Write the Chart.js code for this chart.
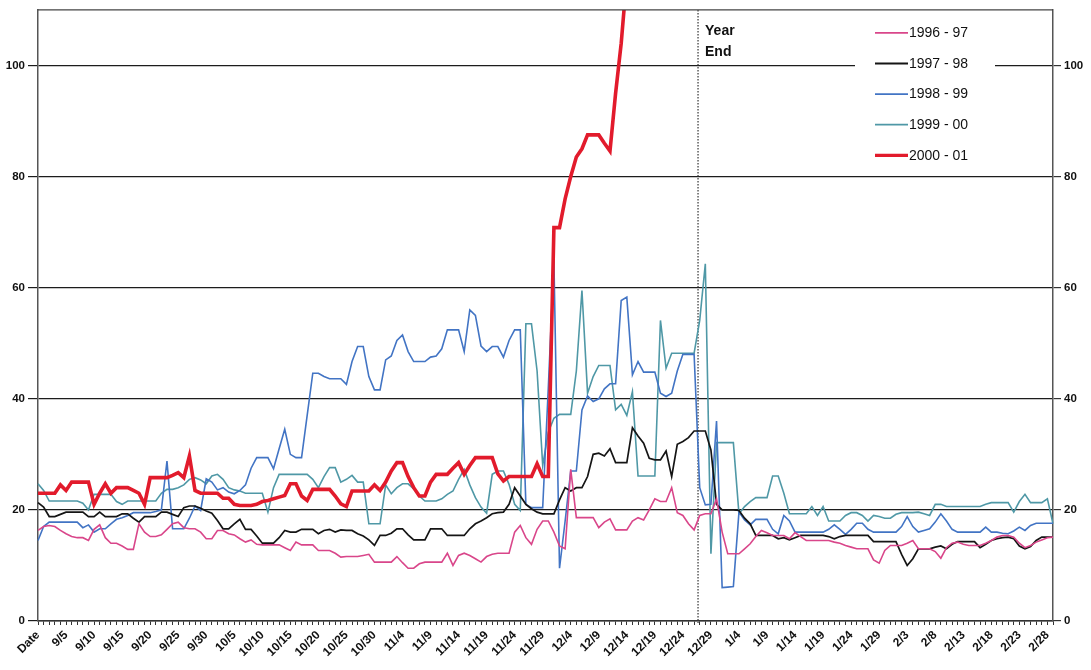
<!DOCTYPE html>
<html><head><meta charset="utf-8">
<script src="https://cdn.jsdelivr.net/npm/chart.js@4.4.1/dist/chart.umd.min.js"></script>
<style>html,body{margin:0;padding:0;background:#fff}canvas{display:block}</style>
</head><body>
<canvas id="c" width="1091" height="670"></canvas>
<script>
// ---------- DATA ----------
const categories = ["Date",
"9/1","9/2","9/3","9/4","9/5","9/6","9/7","9/8","9/9","9/10","9/11","9/12","9/13","9/14","9/15","9/16","9/17","9/18","9/19","9/20","9/21","9/22","9/23","9/24","9/25","9/26","9/27","9/28","9/29","9/30",
"10/1","10/2","10/3","10/4","10/5","10/6","10/7","10/8","10/9","10/10","10/11","10/12","10/13","10/14","10/15","10/16","10/17","10/18","10/19","10/20","10/21","10/22","10/23","10/24","10/25","10/26","10/27","10/28","10/29","10/30","10/31",
"11/1","11/2","11/3","11/4","11/5","11/6","11/7","11/8","11/9","11/10","11/11","11/12","11/13","11/14","11/15","11/16","11/17","11/18","11/19","11/20","11/21","11/22","11/23","11/24","11/25","11/26","11/27","11/28","11/29","11/30",
"12/1","12/2","12/3","12/4","12/5","12/6","12/7","12/8","12/9","12/10","12/11","12/12","12/13","12/14","12/15","12/16","12/17","12/18","12/19","12/20","12/21","12/22","12/23","12/24","12/25","12/26","12/27","12/28","12/29","12/30","12/31",
"1/2","1/3","1/4","1/5","1/6","1/7","1/8","1/9","1/10","1/11","1/12","1/13","1/14","1/15","1/16","1/17","1/18","1/19","1/20","1/21","1/22","1/23","1/24","1/25","1/26","1/27","1/28","1/29","1/30","1/31",
"2/1","2/2","2/3","2/4","2/5","2/6","2/7","2/8","2/9","2/10","2/11","2/12","2/13","2/14","2/15","2/16","2/17","2/18","2/19","2/20","2/21","2/22","2/23","2/24","2/25","2/26","2/27","2/28",
"3/1"];
const tickLabelEvery = 5;
const yTickValues = [0, 20, 40, 60, 80, 100];
const seriesNames = ["1996 - 97", "1997 - 98", "1998 - 99", "1999 - 00", "2000 - 01"];

const s1996_97 = [
16.3,17,17.2,17,16.3,15.7,15.2,15,15,14.5,
16.5,17.3,15,14,14,13.5,12.9,12.9,17.5,16,
15.2,15.2,15.5,16.5,17.5,17.8,16.8,16.6,16.6,16,
14.8,14.8,16.3,16.3,15.7,15.5,14.8,14.2,14.6,13.8,
13.7,13.7,13.7,13.7,13.2,12.7,14.2,13.7,13.7,13.7,
12.7,12.7,12.7,12.2,11.5,11.6,11.6,11.6,11.8,12,
10.6,10.6,10.6,10.6,11.6,10.5,9.5,9.5,10.3,10.6,
10.6,10.6,10.6,12.2,10,11.8,12.2,11.8,11.2,10.6,
11.6,12,12.2,12.2,12.2,16,17.2,15,13.8,16.5,
18,18,16,13.5,13,27.3,18.6,18.6,18.6,18.6,
16.8,17.8,18.4,16.4,16.4,16.4,18,18.6,18.2,20,
22,21.5,21.5,24,19.5,19,17.5,16.4,19,19.3,
19.3,22,16,12.1,12.1,12.1,13,13.9,15.2,16.3,
15.9,15.4,15.4,15.4,14.8,15.9,15.2,14.5,14.5,14.5,
14.5,14.5,14.2,14,13.6,13.3,13,13,13,11,
10.4,12.7,13.6,13.6,13.6,14,14.5,13,13,13,
12.5,11.3,13.2,14,14.2,13.8,13.6,13.6,13.6,14,
14.5,15.1,15.4,15.4,15.1,14,13.2,13.6,14.2,14.6,
15,15.1];

const s1997_98 = [
21.3,20.5,18.8,18.8,19.2,19.6,19.6,19.6,19.6,18.8,
18.8,19.6,18.8,18.8,18.8,19.3,19.3,18.5,17.8,18.8,
18.8,18.8,19.6,19.6,19.2,18.8,20.4,20.7,20.7,20.3,
19.8,19.4,18.1,16.6,16.6,17.5,18.3,16.5,16.5,15.3,
14,14,14,15,16.3,16,16,16.5,16.5,16.5,
15.7,16.3,16.5,16,16.4,16.3,16.3,15.7,15.3,14.6,
13.6,15.4,15.4,15.8,16.6,16.6,15.5,14.6,14.6,14.6,
16.6,16.6,16.6,15.4,15.4,15.4,15.4,16.6,17.5,18,
18.6,19.3,19.5,19.6,21,24,22.5,21,20.2,19.6,
19.3,19.3,19.3,21.8,24,23.4,24,24,26,30,
30.2,29.7,31,28.5,28.5,28.5,34.8,33.3,32,29.3,
29,29,30.6,26,31.8,32.3,33,34.2,34.2,34.2,
30.8,21,20,20,20,19.9,18.5,17.5,15.4,15.4,
15.4,15.4,14.8,15,14.6,15,15.4,15.4,15.4,15.4,
15.4,15.2,14.8,15.2,15.4,15.4,15.4,15.4,15.4,14.3,
14.3,14.3,14.3,14.3,12,10,11.2,13,13,13,
13.3,13.5,13,13.8,14.3,14.3,14.3,14.3,13.2,13.8,
14.5,14.8,15,15.1,14.8,13.5,13,13.4,14.5,15.1,
15.1,15.1];

const s1998_99 = [
14.5,17,17.8,17.8,17.8,17.8,17.8,17.8,16.8,17.3,
16,16.6,16.6,17.5,18.3,18.6,19,19.5,19.5,19.5,
19.5,19.7,20,28.8,16.6,16.6,16.6,18.5,20.7,19.9,
25.6,25,23.6,24,23.2,22.9,23.5,24.5,27.5,29.4,
29.4,29.4,27.4,31,34.5,30,29.4,29.4,37,44.6,
44.6,44,43.6,43.6,43.6,42.6,46.7,49.4,49.4,44,
41.6,41.6,47,47.7,50.5,51.5,48.5,46.7,46.7,46.7,
47.5,47.7,49,52.4,52.4,52.4,48.5,56,55,49.5,
48.5,49.4,49.4,47.5,50.5,52.4,52.4,21,20.4,20.4,
20.4,42,65,9.5,18,27,27,38,40.5,39.5,
40,41.8,42.7,42.7,57.7,58.3,44.3,46.7,44.8,44.8,
44.8,41,40.4,41,45,48,48,48,24,20.9,
21,36,6,6.1,6.2,19.6,18.2,17.3,18.3,18.3,
18.3,16.5,15.7,19,18,16,16,16,16,16,
16,16.5,17.3,16.5,15.6,16.5,17.6,17.6,16.5,16,
16,16,16,16,17,18.8,17,16,16.3,16.6,
17.8,19.3,18,16.5,16,16,16,16,16,16.9,
16,16,15.8,15.7,16.2,16.9,16.3,17.2,17.6,17.6,
17.6,17.6];

const s1999_00 = [
24.7,23.5,21.6,21.6,21.6,21.6,21.6,21.6,21.2,20,
22.8,22.8,22.8,22.8,21.5,21,21.6,21.6,21.6,21.6,
21.6,21.6,23,23.7,23.7,24,24.5,25.5,25.8,25.4,
24.7,26.1,26.4,25.5,24,23.6,23.4,23,23,23,
23,19.6,24,26.4,26.4,26.4,26.4,26.4,26.4,25.5,
24,26,27.6,27.6,25,25.5,26.2,25,25,17.5,
17.5,17.5,24.5,22.9,24,24.7,24.7,23.8,22.5,21.6,
21.6,21.6,22,22.8,23.4,25.5,27.3,24.5,22.2,20.5,
19.4,26.4,27,27,24.6,21,19.9,53.5,53.5,45,
28,34,36.5,37.2,37.2,37.2,45,59.5,41,44,
46,46,46,38,39,37,41.3,26.1,26.1,26.1,
26.1,54.1,45.5,48.2,48.2,48.2,48.2,48.2,54.1,64.3,
12.1,32.1,32.1,32.1,32.1,19.3,20.6,21.5,22.2,22.2,
22.2,26.1,26.1,23,19.3,19.3,19.3,19.3,20.6,19,
20.6,18,18,18,19,19.5,19.5,19,18,19,
18.8,18.5,18.5,19.2,19.5,19.5,19.5,19.6,19.3,19,
21,21,20.6,20.6,20.6,20.6,20.6,20.6,20.6,21,
21.3,21.3,21.3,21.3,19.6,21.5,22.8,21.3,21.3,21.3,
22,17.5];

const s2000_01 = [
23,23,23,23,24.5,23.5,25,25,25,25,
21,23,24.7,23,24,24,24,23.5,23,21,
25.8,25.8,25.8,25.8,26.2,26.7,25.8,29.7,23.5,23,
23,23,23,22.1,22.1,21,20.8,20.8,20.8,21,
21.5,21.7,22,22.3,22.6,24.7,24.7,22.5,21.7,23.7,
23.7,23.7,23.7,22.5,21.1,20.6,23.4,23.4,23.4,23.4,
24.5,23.5,25,27,28.5,28.5,26,24,22.5,22.5,
25,26.4,26.4,26.4,27.5,28.5,26.4,28,29.4,29.4,
29.4,29.4,26.5,25.2,26,26,26,26,26,28.3,
26,26,70.8,70.8,76,80,83.5,85,87.5,87.5,
87.5,86,84.6,95,104,116];

const yearEndPosition = 117.7;   // position on the category axis (between 12/26 and 12/27)
const yearEndText = ["Year", "End"];

// ---------- STYLE ----------
const colors = ["#d9468a", "#151515", "#4274c4", "#4f98a6", "#e21b2c"];
const widths = [1.6, 1.7, 1.6, 1.6, 3.6];
const allSeries = [s1996_97, s1997_98, s1998_99, s1999_00, s2000_01];
const FONT = "'Liberation Sans', Arial, Helvetica, sans-serif";

const datasets = allSeries.map((d, k) => ({
  label: seriesNames[k],
  data: d,
  borderColor: colors[k],
  backgroundColor: colors[k],
  borderWidth: widths[k],
  pointRadius: 0,
  tension: 0,
  fill: false,
  spanGaps: false,
  order: k === 4 ? 0 : 1
}));

const decor = {
  id: 'decor',
  beforeDatasetsDraw(chart) {
    const {ctx, chartArea: a, scales} = chart;
    const x = scales.x.getPixelForValue(yearEndPosition);
    ctx.save();
    ctx.strokeStyle = '#333';
    ctx.lineWidth = 1.2;
    ctx.setLineDash([1.5, 1.5]);
    ctx.beginPath();
    ctx.moveTo(x, a.top);
    ctx.lineTo(x, a.bottom + 2);
    ctx.stroke();
    ctx.restore();
  },
  afterDraw(chart) {
    const {ctx, chartArea: a, scales} = chart;
    ctx.save();
    ctx.strokeStyle = '#444';
    ctx.lineWidth = 1.3;
    ctx.beginPath();
    ctx.moveTo(a.left, a.top);
    ctx.lineTo(a.right, a.top);
    ctx.stroke();
    const x = scales.x.getPixelForValue(yearEndPosition);
    ctx.fillStyle = '#111';
    ctx.font = "bold 14px " + FONT;
    ctx.textAlign = 'left';
    ctx.textBaseline = 'middle';
    ctx.fillText(yearEndText[0], x + 7, a.top + 21);
    ctx.fillText(yearEndText[1], x + 7, a.top + 42);
    const lx = 855, ly = a.top + 3, lw = 140, lh = 162;
    ctx.fillStyle = '#fff';
    ctx.fillRect(lx, ly, lw, lh);
    ctx.font = "14px " + FONT;
    chart.data.datasets.forEach((ds, k) => {
      const yy = a.top + 23 + k * 30.6;
      ctx.strokeStyle = ds.borderColor;
      ctx.lineWidth = k === 4 ? 3.2 : 1.8;
      ctx.setLineDash([]);
      ctx.beginPath();
      ctx.moveTo(875, yy);
      ctx.lineTo(908, yy);
      ctx.stroke();
      ctx.fillStyle = '#111';
      ctx.fillText(ds.label, 909, yy + 0.5);
    });
    ctx.restore();
  }
};

new Chart(document.getElementById('c'), {
  type: 'line',
  data: { labels: categories, datasets },
  options: {
    responsive: false,
    animation: false,
    events: [],
    layout: { padding: { top: 7, left: 0, right: 0, bottom: 0 } },
    plugins: { legend: { display: false }, tooltip: { enabled: false } },
    scales: {
      x: {
        type: 'category',
        offset: false,
        afterFit(s) { s.height = 49; },
        grid: { display: true, drawOnChartArea: false, drawTicks: true, tickLength: 4, color: '#333', lineWidth: 1 },
        border: { display: true, color: '#333', width: 1.5 },
        ticks: {
          autoSkip: false, maxRotation: 45, minRotation: 45, padding: 3,
          color: '#111', font: { family: FONT, size: 12, weight: 'bold' },
          callback(v, i) { return i % tickLabelEvery === 0 ? categories[i] : ''; }
        }
      },
      y: {
        type: 'linear', position: 'left', min: 0, max: 110,
        afterFit(s) { s.width = 38; },
        afterBuildTicks(s) { s.ticks = yTickValues.map(v => ({ value: v })); },
        grid: { color: '#1c1c1c', lineWidth: 1.2, tickLength: 10, drawTicks: true },
        border: { display: true, color: '#555', width: 1.5 },
        ticks: { includeBounds: false, padding: 3, color: '#111', font: { family: FONT, size: 11.5, weight: 'bold' } }
      },
      y2: {
        type: 'linear', position: 'right', min: 0, max: 110,
        afterFit(s) { s.width = 38; },
        afterBuildTicks(s) { s.ticks = yTickValues.map(v => ({ value: v })); },
        grid: { drawOnChartArea: false, color: '#333', lineWidth: 1.2, tickLength: 8, drawTicks: true },
        border: { display: true, color: '#555', width: 1.5 },
        ticks: { includeBounds: false, padding: 3, color: '#111', font: { family: FONT, size: 11.5, weight: 'bold' } }
      }
    }
  },
  plugins: [decor]
});
</script>
</body></html>
